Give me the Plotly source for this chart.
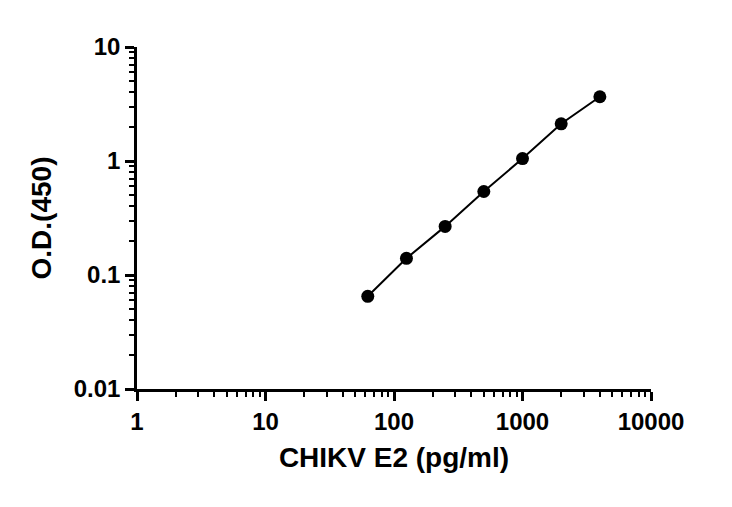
import plotly.graph_objects as go

# CHIKV E2 standard curve
conc = [62.5, 125, 250, 500, 1000, 2000, 4000]
od450 = [0.065, 0.14, 0.267, 0.54, 1.05, 2.12, 3.66]

x_ticks = [1, 10, 100, 1000, 10000]
x_labels = ['1', '10', '100', '1000', '10000']
y_ticks = [0.01, 0.1, 1, 10]
y_labels = ['0.01', '0.1', '1', '10']

font_main = 'Liberation Sans, Arial, sans-serif'


def minor_vals(decades):
    vals = []
    for d in decades:
        for k in range(2, 10):
            vals.append(k * d)
    return vals


fig = go.Figure()
fig.add_trace(go.Scatter(
    x=conc,
    y=od450,
    mode='lines+markers',
    line=dict(color='black', width=2),
    marker=dict(color='black', size=13),
    showlegend=False,
))

axis_common = dict(
    type='log',
    showgrid=False,
    zeroline=False,
    showline=True,
    linecolor='black',
    linewidth=2.5,
    ticks='outside',
    ticklen=9,
    tickwidth=2.5,
    tickcolor='black',
    tickfont=dict(family=font_main, size=24, color='black', weight='bold'),
)

fig.update_layout(
    width=732,
    height=507,
    paper_bgcolor='white',
    plot_bgcolor='white',
    margin=dict(l=129, r=89, t=39, b=126),
    xaxis=dict(
        axis_common,
        range=[0, 4],
        tickvals=x_ticks,
        ticktext=x_labels,
        minor=dict(ticks='outside', ticklen=5, tickwidth=2, tickcolor='black',
                   showgrid=False, tickvals=minor_vals(x_ticks[:-1])),
        title=dict(text='CHIKV E2 (pg/ml)', standoff=14,
                   font=dict(family=font_main, size=28, color='black', weight='bold')),
    ),
    yaxis=dict(
        axis_common,
        range=[-2, 1],
        tickvals=y_ticks,
        ticktext=y_labels,
        minor=dict(ticks='outside', ticklen=5, tickwidth=2, tickcolor='black',
                   showgrid=False, tickvals=minor_vals(y_ticks[:-1])),
        title=dict(text='O.D.(450)', standoff=14,
                   font=dict(family=font_main, size=28, color='black', weight='bold')),
    ),
)

fig.write_html('out.html')
